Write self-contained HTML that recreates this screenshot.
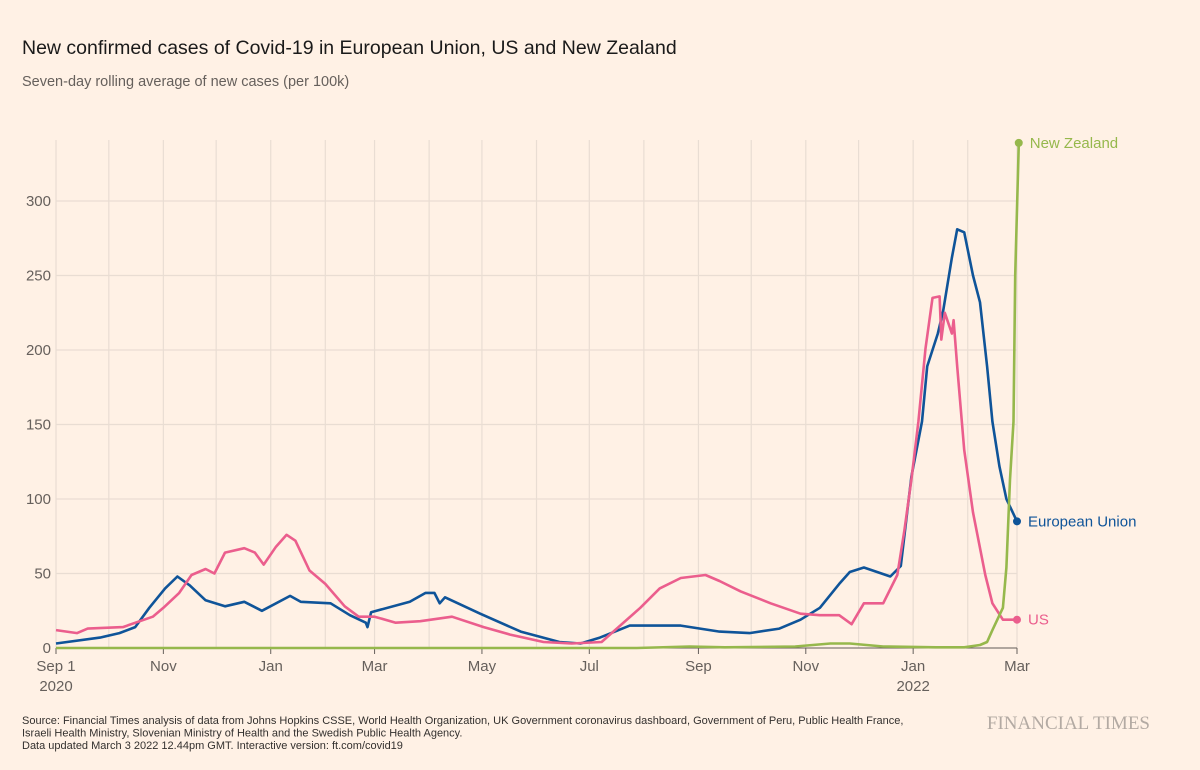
<!DOCTYPE html>
<html><head><meta charset="utf-8"><style>
body{margin:0;background:#fff1e5;font-family:"Liberation Sans",sans-serif;}
#wrap{position:relative;width:1200px;height:770px;background:#fff1e5;overflow:hidden}
</style></head><body>
<div id="wrap">
<svg id="chart" width="1200" height="770"></svg>
</div>
<script>
const tickValues=[0,50,100,150,200,250,300];
const monthDays=[0,30,61,91,122,153,181,212,242,273,303,334,365,395,426,456,487,518,546];
const labelDays=[0,61,122,181,242,303,365,426,487,546];
const labelText=["Sep 1","Nov","Jan","Mar","May","Jul","Sep","Nov","Jan","Mar"];
const labelYear=["2020","","","","","","","","2022",""];
const euDays=[0,25,36,45,53,62,69,76,85,96,107,117,133,139,156,167,176,177,179,201,210,215,218,221,241,264,286,298,309,326,355,377,394,411,423,434,445,451,459,474,480,486,492,495,501,504,509,512,516,521,525,529,532,536,540,546];
const euVals=[3,7,10,14,27,40,48,42,32,28,31,25,35,31,30,22,17,14,24,31,37,37,30,34,23,11,4,3,7,15,15,11,10,13,19,27,43,51,54,48,55,115,152,189,211,226,262,281,279,250,232,189,152,122,100,85];
const usDays=[0,12,18,38,55,61,70,77,85,90,96,107,113,118,125,131,136,144,153,164,172,181,193,207,225,243,258,277,293,310,332,343,355,369,377,389,406,423,434,445,452,459,470,478,482,486,490,494,498,502,503,505,509,510,512,516,521,528,532,538,546];
const usVals=[12,10,13,14,21,27,37,49,53,50,64,67,64,56,68,76,72,52,43,28,21,21,17,18,21,14,9,4,3,4,27,40,47,49,45,38,30,23,22,22,16,30,30,49,79,113,152,201,235,236,207,225,211,220,189,133,91,49,30,19,19];
const nzDays=[0,330,360,380,420,440,451,470,500,516,525,529,532,538,540,542,544,545,547];
const nzVals=[0,0,1,0.5,1,3,3,1,0.5,0.5,2,4,12,27,54,113,152,250,339];
const NS='http://www.w3.org/2000/svg';
const svg=document.getElementById('chart');
const X0=56,PX=961/546,Y0=648,PY=447/300;
const xs=d=>X0+d*PX, ys=v=>Y0-v*PY;
function el(t,a,txt){const e=document.createElementNS(NS,t);for(const k in a)e.setAttribute(k,a[k]);if(txt!==undefined)e.textContent=txt;svg.appendChild(e);return e;}
let e;
e=el('text',{x:22,y:54,'font-size':19.5,fill:'#1a1a1a'},'New confirmed cases of Covid-19 in European Union, US and New Zealand');


e=el('text',{x:22,y:86,'font-size':14.5,fill:'#66605c'},'Seven-day rolling average of new cases (per 100k)');


monthDays.forEach(d=>{
 e=el('line',{x1:xs(d),x2:xs(d),y1:140,y2:Y0,stroke:'#e9ddd3','stroke-width':1.2});
 
 
});
tickValues.forEach(v=>{
 e=el('line',{x1:X0,x2:1017,y1:ys(v),y2:ys(v),stroke:'#e9ddd3','stroke-width':1.2});
 
 
 e=el('text',{x:51,y:ys(v)+5,'font-size':15,fill:'#66605c','text-anchor':'end'},String(v));
 
 
});
labelDays.forEach((d,i)=>{
 e=el('line',{x1:xs(d),x2:xs(d),y1:Y0,y2:Y0+6,stroke:'#66605c','stroke-width':1});
 
 
 e=el('text',{x:xs(d),y:671,'font-size':15,fill:'#66605c','text-anchor':'middle'},labelText[i]);
 
 
 if(labelYear[i]){e=el('text',{x:xs(d),y:691,'font-size':15,fill:'#66605c','text-anchor':'middle'},labelYear[i]);
 
 }
});
e=el('line',{x1:X0,x2:1017,y1:Y0,y2:Y0,stroke:'#66605c','stroke-width':1});


function series(days,vals,color,name,label,dy){
 const pts=days.map((d,i)=>xs(d).toFixed(1)+','+ys(vals[i]).toFixed(1)).join(' ');
 e=el('polyline',{points:pts,fill:'none',stroke:color,'stroke-width':2.6,'stroke-linejoin':'round'});
 
 
 const lx=xs(days[days.length-1]),ly=ys(vals[vals.length-1]);
 e=el('circle',{cx:lx,cy:ly,r:4,fill:color});
 
 
 e=el('text',{x:lx+11,y:ly+5,'font-size':15,fill:color},label);
 
 
}
series(euDays,euVals,'#0f5499','eu','European Union');
series(usDays,usVals,'#eb5e8d','us','US');
series(nzDays,nzVals,'#96b84c','nz','New Zealand');
const foot=['Source: Financial Times analysis of data from Johns Hopkins CSSE, World Health Organization, UK Government coronavirus dashboard, Government of Peru, Public Health France,','Israeli Health Ministry, Slovenian Ministry of Health and the Swedish Public Health Agency.','Data updated March 3 2022 12.44pm GMT. Interactive version: ft.com/covid19'];
foot.forEach((t,i)=>{e=el('text',{x:22,y:724+i*12.5,'font-size':11,fill:'#33302e'},t);
 
 });
e=el('text',{x:1150,y:729,'font-size':19,fill:'#b3aaa3','text-anchor':'end','font-family':'Liberation Serif, serif'},'FINANCIAL TIMES');


</script>
</body></html>
